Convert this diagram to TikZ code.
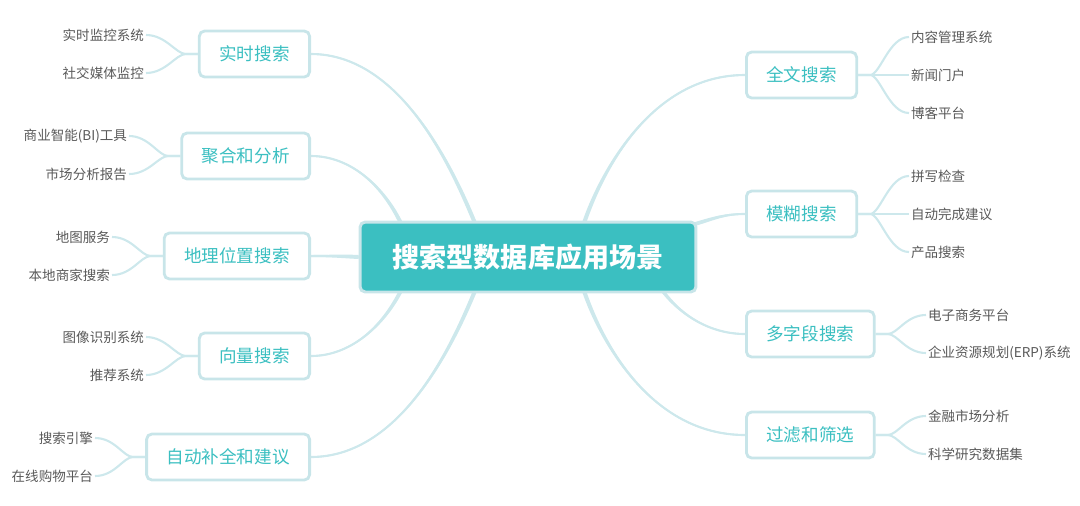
\documentclass[tikz,border=0pt]{standalone}
\usepackage{fontspec}
\setmainfont{Noto Sans CJK SC}
\usetikzlibrary{calc}
\definecolor{mapteal}{HTML}{3BBFC1}
\definecolor{boxedge}{HTML}{C8E5E9}
\definecolor{linkblue}{HTML}{CDE8EC}
\definecolor{leafgray}{HTML}{595959}
\pgfdeclarelayer{links}
\pgfsetlayers{links,main}
% tapered branch: start, two controls, end, half width at start, half width at end
\newcommand{\limb}[6]{%
    \fill[limbfill] ($#1+#5$) .. controls ($#2+#5$) and ($#3+#6$) .. ($#4+#6$)
        -- ($#4-#6$) .. controls ($#3-#6$) and ($#2-#5$) .. ($#1-#5$) -- cycle;
    \draw[twig] #1 .. controls #2 and #3 .. #4;}

\begin{document}
\begin{tikzpicture}[x=0.02cm, y=-0.02cm,
    rootbox/.style={draw=boxedge, line width=1.7pt, fill=mapteal, rounded corners=3pt,
        text=white, font=\fontsize{15.4}{18}\selectfont\bfseries,
        minimum width=6.72cm, minimum height=1.4cm},
    topic/.style={draw=boxedge, line width=1.6pt, fill=white, rounded corners=3pt,
        text=mapteal, font=\fontsize{10}{12}\selectfont, inner xsep=0.4cm, minimum height=0.92cm},
    leaf/.style={text=leafgray, font=\fontsize{7.7}{9}\selectfont, inner sep=1pt},
    limbfill/.style={fill=linkblue},
    twig/.style={draw=linkblue, line width=1.2pt}]
    \useasboundingbox (0,0) rectangle (1080,505);

    % root
    \node[rootbox] (root) at (528,257) {搜索型数据库应用场景};

    % left topics
    \node[topic, anchor=east] (rt) at (311,54) {实时搜索};
    \node[topic, anchor=east] (agg) at (311,156) {聚合和分析};
    \node[topic, anchor=east] (geo) at (311,256) {地理位置搜索};
    \node[topic, anchor=east] (vec) at (311,356) {向量搜索};
    \node[topic, anchor=east] (auto) at (311,457) {自动补全和建议};

    % right topics
    \node[topic, anchor=west] (full) at (745,75) {全文搜索};
    \node[topic, anchor=west] (fuzzy) at (745,214) {模糊搜索};
    \node[topic, anchor=west] (multi) at (745,334) {多字段搜索};
    \node[topic, anchor=west] (filt) at (745,435) {过滤和筛选};

    % left leaves
    \node[leaf, anchor=east] (rt1) at (146,35) {实时监控系统};
    \node[leaf, anchor=east] (rt2) at (146,73) {社交媒体监控};
    \node[leaf, anchor=east] (agg1) at (129,136) {商业智能(BI)工具};
    \node[leaf, anchor=east] (agg2) at (129,174) {市场分析报告};
    \node[leaf, anchor=east] (geo1) at (112,237) {地图服务};
    \node[leaf, anchor=east] (geo2) at (112,275) {本地商家搜索};
    \node[leaf, anchor=east] (vec1) at (146,337) {图像识别系统};
    \node[leaf, anchor=east] (vec2) at (146,375) {推荐系统};
    \node[leaf, anchor=east] (auto1) at (95,438) {搜索引擎};
    \node[leaf, anchor=east] (auto2) at (95,476) {在线购物平台};

    % right leaves
    \node[leaf, anchor=west] (full1) at (909,37) {内容管理系统};
    \node[leaf, anchor=west] (full2) at (909,75) {新闻门户};
    \node[leaf, anchor=west] (full3) at (909,113) {博客平台};
    \node[leaf, anchor=west] (fuzzy1) at (909,176) {拼写检查};
    \node[leaf, anchor=west] (fuzzy2) at (909,214) {自动完成建议};
    \node[leaf, anchor=west] (fuzzy3) at (909,252) {产品搜索};
    \node[leaf, anchor=west] (multi1) at (926,315) {电子商务平台};
    \node[leaf, anchor=west] (multi2) at (926,353) {企业资源规划(ERP)系统};
    \node[leaf, anchor=west] (filt1) at (926,416) {金融市场分析};
    \node[leaf, anchor=west] (filt2) at (926,454) {科学研究数据集};

    % where the branches leave the root
    \coordinate (rtx) at ($(root.north west)+(117,4)$);
    \coordinate (aggx) at ($(root.north west)+(43,4)$);
    \coordinate (vecx) at ($(root.south west)+(43,-4)$);
    \coordinate (autox) at ($(root.south west)+(117,-4)$);
    \coordinate (fullx) at ($(root.north west)+(225,4)$);
    \coordinate (fuzzyx) at ($(root.north east)+(-4,4)$);
    \coordinate (multix) at ($(root.south west)+(303,-4)$);
    \coordinate (filtx) at ($(root.south west)+(225,-4)$);

    \begin{pgfonlayer}{links}
        \limb{(rtx)}{(452,167)}{(400,54)}{(rt.east)}{(2.2,0)}{(0,-0.8)}
        \limb{(aggx)}{(383,185)}{(350,156)}{(agg.east)}{(2.2,0)}{(0,-0.8)}
        \limb{(root.west)}{(340,256)}{(330,256)}{(geo.east)}{(0,2)}{(0,1)}
        \limb{(vecx)}{(383,327)}{(350,356)}{(vec.east)}{(2.2,0)}{(0,0.8)}
        \limb{(autox)}{(452,347)}{(400,457)}{(auto.east)}{(2.2,0)}{(0,0.8)}
        \limb{(fullx)}{(600,175)}{(650,75)}{(full.west)}{(2.2,0)}{(0,0.8)}
        \limb{(fuzzyx)}{(715,218)}{(725,214)}{(fuzzy.west)}{(0,2)}{(0,0.8)}
        \limb{(multix)}{(680,315)}{(710,334)}{(multi.west)}{(2.2,0)}{(0,-0.8)}
        \limb{(filtx)}{(600,339)}{(650,435)}{(filt.west)}{(2.2,0)}{(0,-0.8)}
    \end{pgfonlayer}

    \foreach \t/\l in {rt/rt1, rt/rt2, agg/agg1, agg/agg2, geo/geo1, geo/geo2,
                       vec/vec1, vec/vec2, auto/auto1, auto/auto2}
        \draw[twig] (\t.west) -- ++(-12,0) .. controls +(-10,0) and +(20,0) .. (\l.east);
    \foreach \t/\l in {full/full1, full/full2, full/full3, fuzzy/fuzzy1, fuzzy/fuzzy2,
                       fuzzy/fuzzy3, multi/multi1, multi/multi2, filt/filt1, filt/filt2}
        \draw[twig] (\t.east) -- ++(12,0) .. controls +(10,0) and +(-20,0) .. (\l.west);
\end{tikzpicture}
\end{document}
